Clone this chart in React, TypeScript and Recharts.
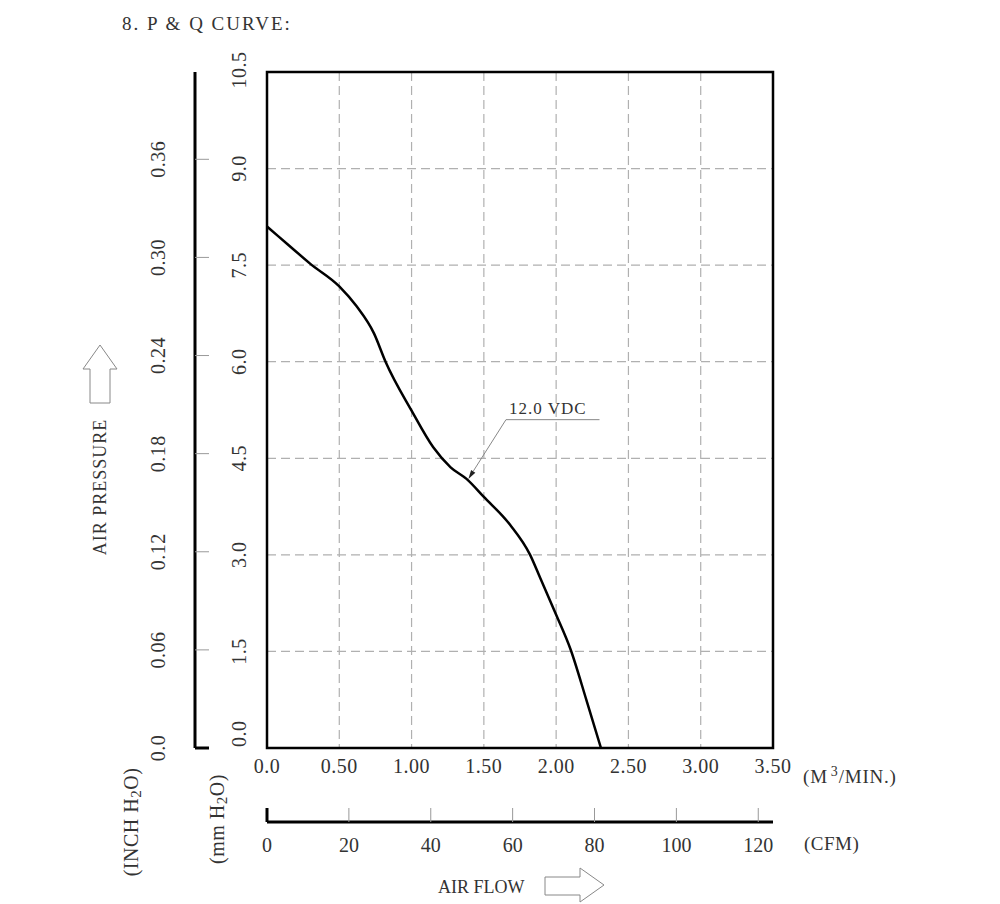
import {
  LineChart,
  Line,
  XAxis,
  YAxis,
  CartesianGrid,
  ReferenceArea,
  ReferenceLine,
} from "recharts";

// P-Q curve, flow in M3/MIN, pressure in mm H2O
const flowM3 = [0, 0.15, 0.3, 0.5, 0.62, 0.74, 0.82, 1.0, 1.15, 1.27, 1.38, 1.5, 1.68, 1.82, 1.89, 2.0, 2.1, 2.21, 2.31];
const pressureMm = [8.1, 7.81, 7.52, 7.17, 6.86, 6.44, 6.0, 5.24, 4.67, 4.36, 4.18, 3.9, 3.47, 3.0, 2.64, 2.07, 1.53, 0.74, 0];

const m3Ticks = [0, 0.5, 1, 1.5, 2, 2.5, 3, 3.5];
const cfmTicks = [0, 20, 40, 60, 80, 100, 120];
const mmTicks = [0, 1.5, 3, 4.5, 6, 7.5, 9, 10.5];
const inchTicks = [0, 0.06, 0.12, 0.18, 0.24, 0.3, 0.36];

const seriesName = "12.0 VDC";

const M3_TO_CFM = 35.3147;
const MM_PER_INCH = 25.4;
const M3_MAX = 3.5;
const MM_MAX = 10.5;
const CFM_MAX = M3_MAX * M3_TO_CFM;
const INCH_MAX = MM_MAX / MM_PER_INCH;

// leader line of the curve label (data units)
const leaderStart = { x: 1.653, y: 5.1 };
const leaderEnd = { x: 2.3, y: 5.1 };
const arrowTip = { x: 1.393, y: 4.18 };

const data = flowM3.map((flow, i) => ({
  flow,
  cfm: flow * M3_TO_CFM,
  pressure: pressureMm[i],
  inch: pressureMm[i] / MM_PER_INCH,
}));

const FONT = '"Liberation Serif", "DejaVu Serif", serif';
const TEXT = "#333";

function MmTick({ x, y, payload }: any) {
  const v = payload.value as number;
  const cx = x - 28;
  const zero = v === 0;
  const cy = zero ? y - 1 : v === MM_MAX ? y - 2 : y;
  return (
    <text
      x={cx}
      y={cy}
      transform={`rotate(-90, ${cx}, ${cy})`}
      textAnchor={zero ? "start" : "middle"}
      dominantBaseline="central"
      fontFamily={FONT}
      fontSize={20}
      letterSpacing={0.5}
      fill={TEXT}
    >
      {v.toFixed(1)}
    </text>
  );
}

function InchTick({ x, y, payload }: any) {
  const v = payload.value as number;
  const cx = x - 37;
  const zero = v === 0;
  return (
    <g>
      <line
        x1={x}
        x2={x + 14}
        y1={y}
        y2={y}
        stroke={zero ? "#000" : "#999"}
        strokeWidth={zero ? 3 : 1}
      />
      <text
        x={cx}
        y={y}
        transform={`rotate(-90, ${cx}, ${y})`}
        textAnchor="middle"
        dominantBaseline="central"
        fontFamily={FONT}
        fontSize={20}
        letterSpacing={0.5}
        fill={TEXT}
      >
        {zero ? "0.0" : v.toFixed(2)}
      </text>
    </g>
  );
}

function M3Tick({ x, y, payload }: any) {
  const v = payload.value as number;
  return (
    <text x={x} y={y + 25} textAnchor="middle" fontFamily={FONT} fontSize={20} letterSpacing={0.5} fill={TEXT}>
      {v === 0 ? "0.0" : v.toFixed(2)}
    </text>
  );
}

function CfmTick({ x, y, payload }: any) {
  const v = payload.value as number;
  const zero = v === 0;
  return (
    <g>
      <line
        x1={x}
        x2={x}
        y1={y}
        y2={y - 14}
        stroke={zero ? "#000" : "#999"}
        strokeWidth={zero ? 3 : 1}
      />
      <text x={x} y={y + 30} textAnchor="middle" fontFamily={FONT} fontSize={20} fill={TEXT}>
        {v}
      </text>
    </g>
  );
}

function LabelLeader(p: any) {
  return (
    <g>
      <line x1={p.x1} y1={p.y1} x2={p.x2} y2={p.y2} stroke="#888" strokeWidth={1} />
      <text x={p.x1 + 3} y={p.y1 - 6} fontFamily={FONT} fontSize={17} letterSpacing={1} fill={TEXT}>
        {seriesName}
      </text>
    </g>
  );
}

function ArrowLeader(p: any) {
  const dx = p.x2 - p.x1;
  const dy = p.y2 - p.y1;
  const len = Math.hypot(dx, dy);
  const ux = dx / len;
  const uy = dy / len;
  const bx = p.x2 - ux * 9;
  const by = p.y2 - uy * 9;
  const nx = -uy * 2.5;
  const ny = ux * 2.5;
  return (
    <g>
      <line x1={p.x1} y1={p.y1} x2={bx} y2={by} stroke="#888" strokeWidth={1} />
      <polygon points={`${p.x2},${p.y2} ${bx + nx},${by + ny} ${bx - nx},${by - ny}`} fill="#222" />
    </g>
  );
}

export default function App() {
  return (
    <div style={{ position: "absolute", left: 0, top: 0, width: 1000, height: 904, background: "#fff" }}>
      <LineChart
        width={1000}
        height={904}
        data={data}
        margin={{ top: 72, right: 227, left: 135, bottom: 42 }}
      >
        <CartesianGrid xAxisId="a_m3" yAxisId="a_mm" stroke="#b0b0b0" strokeWidth={1.2} strokeDasharray="9 5" />
        {/* outer axes first: CFM and INCH H2O */}
        <XAxis
          xAxisId="b_cfm"
          dataKey="cfm"
          type="number"
          domain={[0, CFM_MAX]}
          ticks={cfmTicks}
          interval={0}
          allowDataOverflow
          height={40}
          axisLine={{ stroke: "#000", strokeWidth: 3 }}
          tickLine={false}
          tickSize={0}
          tickMargin={0}
          tick={CfmTick}
        />
        <YAxis
          yAxisId="b_inch"
          dataKey="inch"
          type="number"
          domain={[0, INCH_MAX]}
          ticks={inchTicks}
          interval={0}
          allowDataOverflow
          width={60}
          axisLine={{ stroke: "#000", strokeWidth: 3 }}
          tickLine={false}
          tickSize={0}
          tickMargin={0}
          tick={InchTick}
        />
        <XAxis
          xAxisId="a_m3"
          dataKey="flow"
          type="number"
          domain={[0, M3_MAX]}
          ticks={m3Ticks}
          interval={0}
          allowDataOverflow
          height={74}
          axisLine={false}
          tickLine={false}
          tickSize={0}
          tickMargin={0}
          tick={M3Tick}
        />
        <YAxis
          yAxisId="a_mm"
          type="number"
          domain={[0, MM_MAX]}
          ticks={mmTicks}
          interval={0}
          allowDataOverflow
          width={72}
          axisLine={false}
          tickLine={false}
          tickSize={0}
          tickMargin={0}
          tick={MmTick}
        />
        <ReferenceArea
          xAxisId="a_m3"
          yAxisId="a_mm"
          x1={0}
          x2={M3_MAX}
          y1={0}
          y2={MM_MAX}
          fill="none"
          fillOpacity={0}
          stroke="#000"
          strokeWidth={2.5}
          ifOverflow="visible"
        />
        <Line
          xAxisId="a_m3"
          yAxisId="a_mm"
          dataKey="pressure"
          type="monotone"
          stroke="#000"
          strokeWidth={2.5}
          dot={false}
          activeDot={false}
          isAnimationActive={false}
        />
        <ReferenceLine
          xAxisId="a_m3"
          yAxisId="a_mm"
          segment={[leaderStart, leaderEnd]}
          ifOverflow="visible"
          shape={LabelLeader}
        />
        <ReferenceLine
          xAxisId="a_m3"
          yAxisId="a_mm"
          segment={[leaderStart, arrowTip]}
          ifOverflow="visible"
          shape={ArrowLeader}
        />
      </LineChart>
      <svg
        width={1000}
        height={904}
        style={{ position: "absolute", left: 0, top: 0, pointerEvents: "none" }}
        fontFamily={FONT}
        fill={TEXT}
      >
        <text x={122} y={30} fontSize={19} letterSpacing={2}>
          8. P &amp; Q CURVE:
        </text>
        <polygon
          points="100,345 117,369 110,369 110,403 90,403 90,369 83,369"
          fill="#fff"
          stroke="#888"
          strokeWidth={1}
        />
        <text x={100} y={487} transform="rotate(-90, 100, 487)" textAnchor="middle" dominantBaseline="central" fontSize={18} letterSpacing={1}>
          AIR PRESSURE
        </text>
        <text x={131} y={822} transform="rotate(-90, 131, 822)" textAnchor="middle" dominantBaseline="central" fontSize={20} letterSpacing={0.5}>
          (INCH H<tspan fontSize={15} dy={5}>2</tspan><tspan dy={-5}>O)</tspan>
        </text>
        <text x={217} y={819} transform="rotate(-90, 217, 819)" textAnchor="middle" dominantBaseline="central" fontSize={20} letterSpacing={0.5}>
          (mm H<tspan fontSize={15} dy={5}>2</tspan><tspan dy={-5}>O)</tspan>
        </text>
        <text x={803} y={783} fontSize={19} letterSpacing={0.8}>
          (M<tspan fontSize={14} dx={3} dy={-7}>3</tspan><tspan dy={7}>/MIN.)</tspan>
        </text>
        <text x={804} y={850} fontSize={19} letterSpacing={0.5}>
          (CFM)
        </text>
        <text x={438} y={893} fontSize={18} letterSpacing={0}>
          AIR FLOW
        </text>
        <polygon
          points="545,877 580,877 580,868 604,885 580,902 580,895 545,895"
          fill="#fff"
          stroke="#888"
          strokeWidth={1}
        />
      </svg>
    </div>
  );
}
